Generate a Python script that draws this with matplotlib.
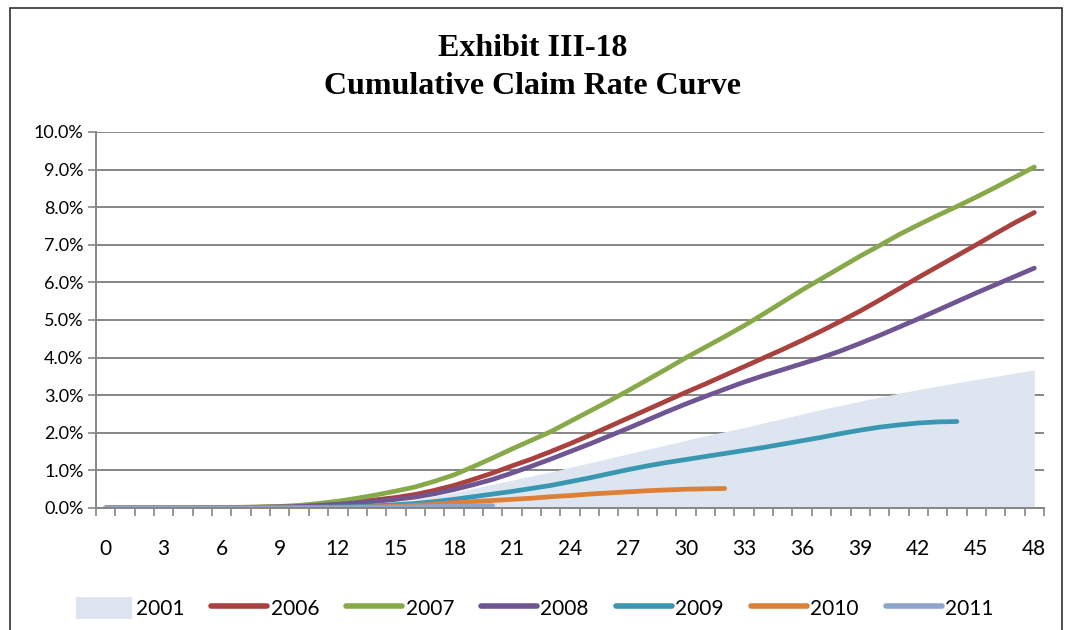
import numpy as np
import matplotlib.pyplot as plt
from matplotlib.patches import Rectangle, Patch
from matplotlib.lines import Line2D
from matplotlib.ticker import FuncFormatter

months = list(range(49))

rate_2001 = [0, 0, 0, 0, 0, 0, 0, 0, 0, 0, 0, 0.01, 0.03, 0.06, 0.10, 0.15, 0.22, 0.31, 0.41, 0.52,
             0.63, 0.74, 0.85, 0.96, 1.08, 1.20, 1.32, 1.44, 1.56, 1.68, 1.80, 1.92, 2.03, 2.14, 2.26,
             2.38, 2.50, 2.62, 2.73, 2.84, 2.95, 3.05, 3.15, 3.24, 3.33, 3.42, 3.50, 3.59, 3.67]
rate_2006 = [0, 0, 0, 0, 0, 0.005, 0.01, 0.015, 0.02, 0.03, 0.05, 0.08, 0.12, 0.17, 0.22, 0.28, 0.36,
             0.47, 0.60, 0.76, 0.93, 1.12, 1.30, 1.50, 1.71, 1.93, 2.16, 2.39, 2.62, 2.85, 3.08, 3.30,
             3.53, 3.76, 3.99, 4.22, 4.46, 4.71, 4.97, 5.24, 5.53, 5.83, 6.13, 6.42, 6.71, 7.00, 7.30,
             7.59, 7.86]
rate_2007 = [0, 0, 0, 0, 0.005, 0.01, 0.01, 0.02, 0.03, 0.04, 0.07, 0.12, 0.18, 0.26, 0.35, 0.45, 0.56,
             0.71, 0.88, 1.10, 1.33, 1.57, 1.80, 2.03, 2.30, 2.57, 2.84, 3.12, 3.41, 3.70, 4.00, 4.28,
             4.56, 4.85, 5.16, 5.48, 5.80, 6.10, 6.40, 6.70, 6.98, 7.27, 7.53, 7.78, 8.02, 8.27, 8.53,
             8.80, 9.07]
rate_2008 = [0, 0, 0, 0, 0, 0.005, 0.01, 0.01, 0.02, 0.03, 0.04, 0.07, 0.10, 0.14, 0.18, 0.23, 0.29,
             0.38, 0.49, 0.62, 0.76, 0.93, 1.11, 1.30, 1.50, 1.70, 1.91, 2.12, 2.34, 2.56, 2.77, 2.97,
             3.16, 3.35, 3.52, 3.68, 3.84, 4.00, 4.18, 4.38, 4.59, 4.81, 5.03, 5.26, 5.49, 5.72, 5.94,
             6.16, 6.38]
rate_2009 = [0, 0, 0, 0, 0, 0, 0, 0, 0.005, 0.01, 0.01, 0.02, 0.03, 0.04, 0.06, 0.09, 0.12, 0.17,
             0.23, 0.30, 0.37, 0.44, 0.52, 0.60, 0.70, 0.80, 0.91, 1.02, 1.12, 1.21, 1.29, 1.37, 1.45,
             1.53, 1.61, 1.70, 1.79, 1.88, 1.98, 2.07, 2.15, 2.21, 2.26, 2.29, 2.30]
rate_2010 = [0, 0, 0, 0, 0, 0, 0, 0, 0, 0.005, 0.01, 0.01, 0.01, 0.02, 0.03, 0.05, 0.07, 0.10, 0.14,
             0.17, 0.20, 0.23, 0.26, 0.30, 0.33, 0.37, 0.40, 0.43, 0.46, 0.48, 0.50, 0.51, 0.52]
rate_2011 = [0, 0, 0, 0, 0, 0, 0, 0, 0, 0, 0.005, 0.01, 0.01, 0.015, 0.02, 0.025, 0.03, 0.04, 0.05,
             0.055, 0.06]

line_series = [
    ("2006", rate_2006, "#A9413E"),
    ("2007", rate_2007, "#88A94A"),
    ("2008", rate_2008, "#6F5592"),
    ("2009", rate_2009, "#3A97B1"),
    ("2010", rate_2010, "#DD7F35"),
    ("2011", rate_2011, "#8DA5CC"),
]
area_color = "#DCE5F0"
grid_color = "#868686"

fig = plt.figure(figsize=(10.66, 6.30), dpi=100)
ax = fig.add_axes([96 / 1066, 1 - 508 / 630, (1044 - 96) / 1066, (508 - 132) / 630])

# outer chart border (bottom runs off the image)
fig.patches.append(Rectangle((10 / 1066, -0.2), (1062 - 10) / 1066, 1.2 - 8 / 630,
                             transform=fig.transFigure, fill=False, edgecolor="#303030",
                             linewidth=1.2))

fig.text(0.5, 1 - 48 / 630, "Exhibit III-18", ha="center", va="center",
         family="Liberation Serif", weight="bold", fontsize=23)
fig.text(0.5, 1 - 86 / 630, "Cumulative Claim Rate Curve", ha="center", va="center",
         family="Liberation Serif", weight="bold", fontsize=23)

ax.fill_between(months, rate_2001, 0, color=area_color, linewidth=0, zorder=2)
for name, vals, col in line_series:
    ax.plot(months[:len(vals)], vals, color=col, linewidth=3.4,
            solid_capstyle="round", zorder=3)

ax.set_xlim(-0.5, 48.5)
ax.set_ylim(0, 10)
ax.set_yticks(np.arange(0, 10.5, 1))
ax.yaxis.set_major_formatter(FuncFormatter(lambda v, p: f"{v:.1f}%"))
ax.set_xticks(range(0, 49, 3))
ax.set_xticks(np.arange(-0.5, 49, 1), minor=True)
ax.tick_params(axis="x", which="major", length=0, pad=22, labelsize=15)
ax.tick_params(axis="x", which="minor", length=6, width=1.2, color=grid_color)
ax.tick_params(axis="y", length=6, width=1.2, color=grid_color, labelsize=13, pad=3)
for lbl in ax.get_xticklabels() + ax.get_yticklabels():
    lbl.set_family("Lato")

ax.grid(axis="y", color=grid_color, linewidth=1.4, zorder=1)
ax.set_axisbelow(True)
for s in ["top", "right"]:
    ax.spines[s].set_visible(False)
ax.spines["left"].set_color(grid_color)
ax.spines["bottom"].set_color(grid_color)
ax.spines["left"].set_linewidth(1.4)
ax.spines["bottom"].set_linewidth(1.4)
ax.spines["bottom"].set_zorder(4)

handles = [Patch(facecolor=area_color, edgecolor="none", label="2001")]
for name, vals, col in line_series:
    handles.append(Line2D([0], [0], color=col, linewidth=4, solid_capstyle="round", label=name))
fig.legend(handles=handles, loc="center", bbox_to_anchor=(535 / 1066, 1 - 608 / 630), ncol=7,
           frameon=False, prop={"family": "Lato", "size": 15}, handlelength=2.7,
           handletextpad=0.15, columnspacing=1.3, handleheight=1.2)

fig.savefig("out.png", dpi=100)
